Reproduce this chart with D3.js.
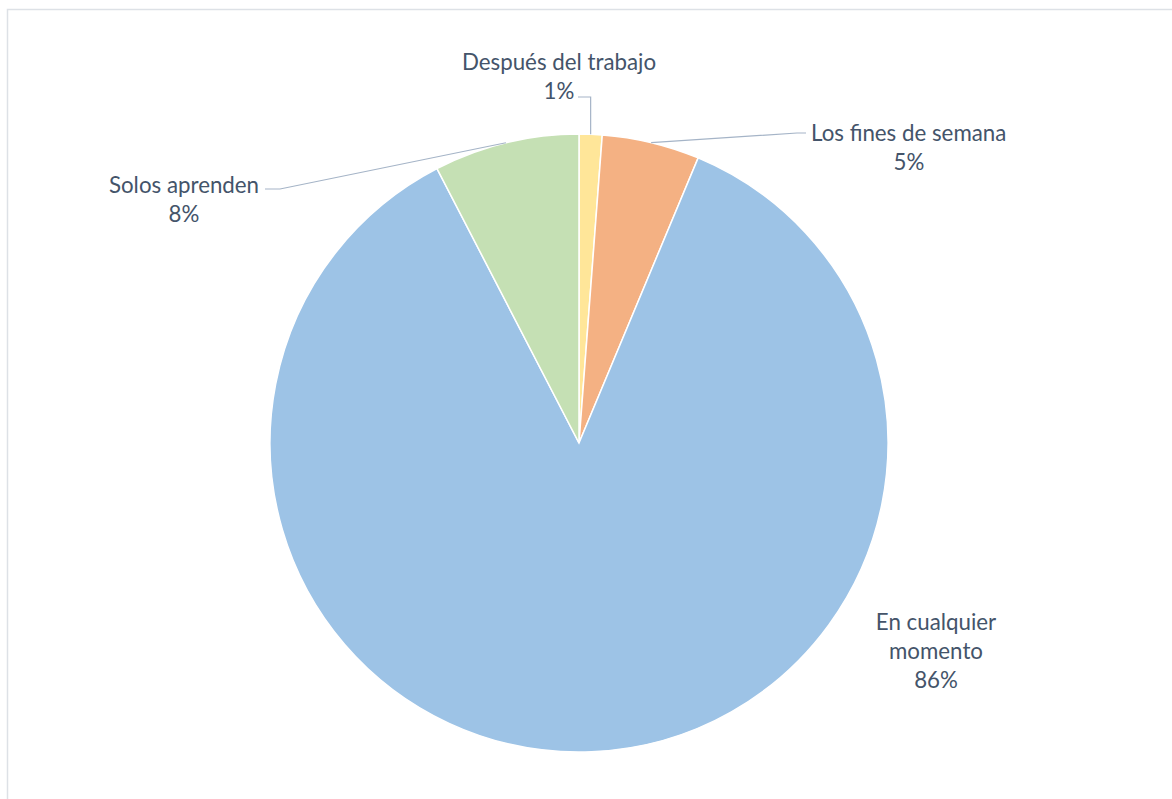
<!DOCTYPE html>
<html>
<head>
<meta charset="utf-8">
<script src="https://cdn.jsdelivr.net/npm/d3@7"></script>
<style>
  html, body { margin: 0; padding: 0; background: #fff; }
  svg { display: block; }
</style>
</head>
<body>
<svg id="chart" width="1172" height="799"></svg>
<script>
// Share of responses by when people study
const categories = ["Después del trabajo", "Los fines de semana", "En cualquier momento", "Solos aprenden"];
const values = [1.2, 5.1, 86.1, 7.6];
const colors = ["#ffe699", "#f4b183", "#9dc3e6", "#c5e0b4"];

const W = 1172, H = 799;
const cx = 579, cy = 443, R = 309;
const textColor = "#44546a";
const leaderColor = "#a5b4c7";
const fontFamily = "Lato, 'Open Sans', sans-serif";
const fontSize = 22.3;
const lineH = 29;

const svg = d3.select("#chart");

// chart area frame
svg.append("rect")
  .attr("x", 7.5).attr("y", 9.5)
  .attr("width", W + 20).attr("height", H + 20)
  .attr("fill", "none").attr("stroke", "#dde1e6").attr("stroke-width", 1.5);

const total = d3.sum(values);
const pie = d3.pie().sort(null).value(d => d)(values);
const arc = d3.arc().innerRadius(0).outerRadius(R);

const g = svg.append("g").attr("transform", `translate(${cx},${cy})`);

g.selectAll("path.slice")
  .data(pie)
  .join("path")
  .attr("class", "slice")
  .attr("d", arc)
  .attr("fill", (d, i) => colors[i])
  .attr("stroke", "#fff")
  .attr("stroke-width", 1.5);

// label layout: text block anchor (relative to centre), text-anchor, and leader elbow
const labelLayout = [
  { lines: ["Después del trabajo"], tx: -20, ty: -381, anchor: "middle", pctDx: 0,
    leader: d => [[edge(d)[0], -346], [-1, -346]] },
  { lines: ["Los fines de semana"], tx: 232, ty: -310, anchor: "start", pctDx: 98,
    leader: d => [[218, -310], [227, -310]] },
  { lines: ["En cualquier", "momento"], tx: 357, ty: 179, anchor: "middle", pctDx: 0,
    leader: null },
  { lines: ["Solos aprenden"], tx: -395, ty: -258, anchor: "middle", pctDx: 0,
    leader: d => [[-299, -254], [-314, -254]] }
];

function edge(d) {
  const a = (d.startAngle + d.endAngle) / 2;
  return [R * Math.sin(a), -R * Math.cos(a)];
}

pie.forEach((d, i) => {
  const L = labelLayout[i];
  if (L.leader) {
    const pts = [edge(d)].concat(L.leader(d));
    g.append("path")
      .attr("d", d3.line()(pts))
      .attr("fill", "none")
      .attr("stroke", leaderColor)
      .attr("stroke-width", 1.2);
  }
  const t = g.append("text")
    .attr("font-family", fontFamily)
    .attr("font-size", fontSize)
    .attr("fill", textColor)
    .attr("text-anchor", L.anchor);
  const pct = Math.round(d.data / total * 100) + "%";
  L.lines.forEach((ln, k) => {
    t.append("tspan").attr("x", L.tx).attr("y", L.ty + k * lineH).attr("dy", "0.35em").text(ln);
  });
  t.append("tspan")
    .attr("x", L.tx + L.pctDx)
    .attr("y", L.ty + L.lines.length * lineH)
    .attr("dy", "0.35em")
    .attr("text-anchor", L.pctDx ? "middle" : null)
    .text(pct);
});
</script>
</body>
</html>
